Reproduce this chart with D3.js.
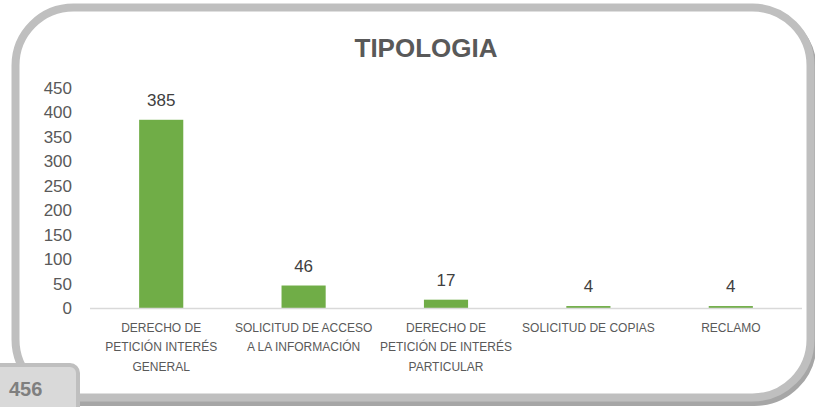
<!DOCTYPE html>
<html>
<head>
<meta charset="utf-8">
<script src="https://cdn.jsdelivr.net/npm/d3@7"></script>
<style>
  html, body { margin: 0; padding: 0; background: #fff; }
  svg { display: block; font-family: "Liberation Sans", Arial, sans-serif; }
</style>
</head>
<body>
<svg id="chart" width="815" height="407"></svg>
<script>
const categories = [
  ["DERECHO DE", "PETICIÓN INTERÉS", "GENERAL"],
  ["SOLICITUD DE ACCESO", "A LA INFORMACIÓN"],
  ["DERECHO DE", "PETICIÓN DE INTERÉS", "PARTICULAR"],
  ["SOLICITUD DE COPIAS"],
  ["RECLAMO"]
];
const values = [385, 46, 17, 4, 4];
const yTicks = [0, 50, 100, 150, 200, 250, 300, 350, 400, 450];
const title = "TIPOLOGIA";
const pageNumber = "456";

const svg = d3.select("#chart");

// frame shadow + frame
svg.append("rect")
  .attr("x", 17.5).attr("y", 11).attr("width", 795).attr("height", 391)
  .attr("rx", 58).attr("ry", 58)
  .attr("fill", "none").attr("stroke", "#a6a6a6").attr("stroke-width", 8);
svg.append("rect")
  .attr("x", 15.5).attr("y", 7.5).attr("width", 795).attr("height", 390)
  .attr("rx", 58).attr("ry", 58)
  .attr("fill", "#fff").attr("stroke", "#bfbfbf").attr("stroke-width", 8);

const keys = categories.map((c, i) => i);
const x = d3.scaleBand().domain(keys).range([90, 802])
  .paddingInner(0.69).paddingOuter(0.345);
const y = d3.scaleLinear().domain([0, 450]).range([308, 88]);

// title
svg.append("text")
  .attr("x", 426).attr("y", 57)
  .attr("text-anchor", "middle")
  .attr("font-size", 26).attr("font-weight", "bold")
  .attr("fill", "#595959")
  .text(title);

// y axis (labels only)
const yAxis = d3.axisLeft(y).tickValues(yTicks).tickSize(0).tickPadding(0);
const yg = svg.append("g").attr("transform", "translate(72,0)").call(yAxis);
yg.select(".domain").remove();
yg.selectAll("text")
  .attr("font-family", "Liberation Sans, Arial, sans-serif")
  .attr("font-size", 17).attr("fill", "#595959");

// bars
svg.append("g").selectAll("rect").data(values).join("rect")
  .attr("x", (d, i) => x(i))
  .attr("width", x.bandwidth())
  .attr("y", d => y(d))
  .attr("height", d => y(0) - y(d))
  .attr("fill", "#70ad47");

// baseline
svg.append("line")
  .attr("x1", 90).attr("x2", 802)
  .attr("y1", y(0) + 0.5).attr("y2", y(0) + 0.5)
  .attr("stroke", "#d9d9d9").attr("stroke-width", 1.5);

// data labels
svg.append("g").selectAll("text").data(values).join("text")
  .attr("x", (d, i) => x(i) + x.bandwidth() / 2)
  .attr("y", d => y(d) - 14)
  .attr("text-anchor", "middle")
  .attr("font-size", 17).attr("fill", "#404040")
  .text(d => d);

// category labels
const cg = svg.append("g").selectAll("text").data(categories).join("text")
  .attr("text-anchor", "middle")
  .attr("font-size", 12).attr("fill", "#595959");
cg.each(function(lines, i) {
  const t = d3.select(this);
  lines.forEach((ln, j) => {
    t.append("tspan")
      .attr("x", x(i) + x.bandwidth() / 2)
      .attr("y", 331.5 + j * 19.5)
      .text(ln);
  });
});

// page tab
svg.append("rect")
  .attr("x", -10).attr("y", 365).attr("width", 88).attr("height", 60)
  .attr("rx", 8).attr("ry", 8)
  .attr("fill", "#d9d9d9").attr("stroke", "#bfbfbf").attr("stroke-width", 4);
svg.append("text")
  .attr("x", 9).attr("y", 396)
  .attr("font-size", 20).attr("font-weight", "bold")
  .attr("fill", "#7f7f7f")
  .text(pageNumber);
</script>
</body>
</html>
